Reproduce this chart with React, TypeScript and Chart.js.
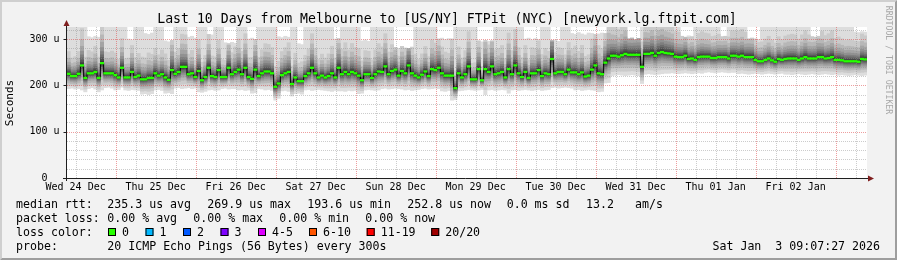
import React, { useEffect, useRef } from 'react';
import { Chart, registerables } from 'chart.js';

Chart.register(...registerables);

// ---------------- data (hourly steps, 10 days) ----------------
const FIRST_STEP_HOUR = 9.42; // hours after 00:00 Wed 24 Dec at the first step
const Y_MAX = 326;

const medianRtt: number[] = [
  225, 220, 220, 225, 243, 216, 226, 226, 229, 216,
  248, 226, 226, 226, 222, 217, 238, 217, 217, 229,
  218, 221, 213, 213, 216, 216, 226, 221, 224, 217,
  212, 233, 225, 229, 240, 240, 224, 226, 218, 231,
  211, 218, 238, 220, 218, 233, 218, 218, 238, 224,
  229, 234, 224, 238, 218, 214, 234, 220, 226,
  230, 230, 226, 197, 204, 222, 226, 229, 203, 217,
  209, 209, 220, 226, 238, 226, 217, 221, 217, 220,
  226, 217, 238, 224, 229, 224, 229, 226, 221, 211,
  224, 224, 216, 224, 230, 229, 241, 224, 231, 234,
  221, 231, 226, 243, 226, 221, 217, 223, 230, 220,
  235, 233, 238, 226, 221, 221, 221, 194, 226, 217,
  224, 241, 213, 213, 235, 211, 235, 229, 241, 224,
  226, 229, 217, 235, 224, 243, 226, 218, 229, 216,
  226, 226, 233, 220, 226, 224, 257, 226, 229, 229,
  224, 234, 228, 228, 224, 228, 219, 221, 234, 243,
  226, 224, 249, 258, 264, 264, 262, 265, 268, 266,
  266, 266, 266, 240, 268, 268, 270, 264, 270, 272,
  270, 269, 268, 262, 261, 261, 264, 257, 258, 255,
  261, 262, 262, 262, 259, 259, 261, 261, 261, 258,
  264, 264, 262, 264, 261, 261, 261, 255, 252, 252,
  255, 258, 254, 251, 257, 255, 257, 258, 258, 258,
  255, 258, 261, 258, 258, 258, 261, 261, 258, 259,
  261, 255, 255, 254, 252, 252, 252, 252, 251, 257,
  256,
];

const minRtt: number[] = [
  193, 194, 192, 193, 190, 186, 193, 195, 192, 186,
  190, 195, 196, 194, 190, 191, 196, 190, 189, 191,
  190, 189, 181, 182, 180, 182, 190, 191, 189, 183,
  184, 182, 194, 195, 193, 194, 195, 193, 194, 186,
  185, 187, 190, 191, 189, 190, 193, 194, 192, 193,
  193, 190, 191, 189, 190, 183, 184, 193, 192, 190,
  191, 189, 168, 172, 188, 189, 187, 177, 182, 183,
  181, 190, 191, 189, 190, 191, 190, 189, 188, 187,
  189, 188, 188, 187, 189, 188, 189, 182, 183, 190,
  191, 190, 189, 190, 193, 194, 192, 193, 194, 193,
  192, 190, 191, 189, 190, 191, 193, 194, 192, 193,
  194, 193, 188, 187, 189, 168, 169, 188, 189, 190,
  191, 190, 189, 190, 191, 180, 190, 191, 189, 190,
  191, 190, 183, 190, 191, 189, 190, 191, 190, 189,
  190, 191, 189, 190, 191, 195, 196, 194, 195, 196,
  195, 194, 190, 191, 189, 190, 191, 190, 189, 186,
  187, 205, 206, 221, 222, 223, 222, 221, 222, 223,
  222, 221, 204, 224, 225, 224, 223, 224, 225, 226,
  226, 227, 226, 225, 226, 227, 226, 225, 226, 227,
  226, 228, 229, 228, 227, 228, 229, 228, 227, 228,
  228, 225, 226, 225, 224, 225, 226, 225, 224, 225,
  226, 225, 224, 225, 226, 224, 224, 223, 224, 225,
  224, 223, 224, 225, 224, 223, 224, 225, 224, 223,
  224, 222, 223, 222, 221, 222, 223, 222, 221, 222,
];

const maxRtt: number[] = [
  326, 326, 326, 326, 326, 326, 305, 303, 306, 304,
  326, 326, 326, 326, 326, 326, 326, 326, 300, 298,
  326, 326, 326, 312, 310, 313, 326, 326, 326, 296,
  294, 297, 326, 326, 326, 326, 304, 306, 302, 326,
  326, 326, 310, 309, 326, 326, 326, 292, 290, 293,
  291, 326, 326, 326, 300, 302, 299, 326, 326, 326,
  326, 326, 326, 305, 303, 306, 304, 326, 326, 290,
  288, 326, 326, 326, 326, 326, 326, 326, 326, 326,
  300, 301, 326, 326, 326, 326, 326, 326, 296, 298,
  295, 326, 326, 326, 326, 326, 326, 326, 282, 280,
  284, 281, 279, 283, 326, 326, 326, 326, 326, 326,
  326, 300, 302, 299, 301, 300, 326, 326, 326, 326,
  326, 326, 326, 296, 294, 297, 295, 296, 326, 326,
  326, 326, 326, 326, 326, 326, 326, 300, 302, 298,
  301, 299, 326, 326, 326, 296, 298, 295, 326, 326,
  326, 312, 310, 314, 311, 309, 313, 312, 310, 311,
  313, 312, 326, 326, 326, 326, 326, 326, 300, 302,
  298, 301, 326, 326, 326, 326, 326, 326, 326, 326,
  326, 326, 326, 326, 306, 304, 307, 305, 326, 326,
  326, 326, 326, 326, 326, 326, 305, 306, 326, 326,
  326, 326, 326, 326, 300, 302, 301, 299, 326, 326,
  326, 326, 326, 326, 326, 326, 326, 326, 326, 326,
  326, 326, 326, 305, 304, 306, 326, 326, 326, 326,
  326, 326, 326, 326, 326, 326, 315, 314, 316, 315,
];

const yMajorTicks = [0, 100, 200, 300];
const yTickLabels = ['0', '100 u', '200 u', '300 u'];
const dayLabels = [
  'Wed 24 Dec', 'Thu 25 Dec', 'Fri 26 Dec', 'Sat 27 Dec', 'Sun 28 Dec',
  'Mon 29 Dec', 'Tue 30 Dec', 'Wed 31 Dec', 'Thu 01 Jan', 'Fri 02 Jan',
];

const TITLE = 'Last 10 Days from Melbourne to [US/NY] FTPit (NYC) [newyork.lg.ftpit.com]';
const medianRow = ['median rtt:', '235.3 us avg', '269.9 us max', '193.6 us min', '252.8 us now', '0.0 ms sd', '13.2', 'am/s'];
const lossRow = ['packet loss:', '0.00 % avg', '0.00 % max', '0.00 % min', '0.00 % now'];
const lossLabels = ['0', '1', '2', '3', '4-5', '6-10', '11-19', '20/20'];
const lossColors = ['#26ff00', '#00b8ff', '#0059ff', '#7e00ff', '#dd00ff', '#ff5500', '#ff0000', '#a10000'];
const probeText = '20 ICMP Echo Pings (56 Bytes) every 300s';
const dateText = 'Sat Jan  3 09:07:27 2026';

// ---------------- style ----------------
const MONO = '"DejaVu Sans Mono", monospace';
const SMOKE_GREYS = [221, 202, 183, 164, 145, 126, 107, 88, 69, 50];
const SMOKE_DOWN = [1, 0.8, 0.62, 0.48, 0.37, 0.28, 0.2, 0.13, 0.08, 0.04];
const SMOKE_UP = [0, 1.5, 1.05, 0.78, 0.58, 0.43, 0.31, 0.21, 0.13, 0.06];
const GREEN_HALF = 1.8;
const medianRowX = [16, 107.3, 207.3, 307.3, 407.3, 506.7, 586, 635];
const lossRowX = [16, 107.3, 193.3, 279.3, 365.3];
const lossBoxX = [108, 145.5, 183, 220.5, 258, 309, 366.7, 431.2];

const N = Math.min(medianRtt.length, minRtt.length, maxRtt.length);
const xs = Array.from({ length: N }, (_, i) => i + 0.5);

function drawGrid(chart: any) {
  const { ctx, chartArea, scales } = chart;
  const { left, right, top, bottom } = chartArea;
  const xS = scales.x, yS = scales.y;
  ctx.save();
  ctx.lineWidth = 1;
  ctx.setLineDash([1, 1]);
  for (let v = 20; v <= Y_MAX; v += 20) {
    const py = Math.round(yS.getPixelForValue(v)) + 0.5;
    ctx.strokeStyle = v % 100 === 0 ? 'rgba(222,79,79,0.55)' : 'rgba(143,143,143,0.45)';
    ctx.beginPath();
    ctx.moveTo(left, py);
    ctx.lineTo(right, py);
    ctx.stroke();
  }
  const firstH = Math.ceil(FIRST_STEP_HOUR / 6) * 6;
  for (let h = firstH; h < FIRST_STEP_HOUR + N; h += 6) {
    const px = Math.round(xS.getPixelForValue(h - FIRST_STEP_HOUR)) + 0.5;
    ctx.strokeStyle = h % 24 === 0 ? 'rgba(222,79,79,0.55)' : 'rgba(143,143,143,0.45)';
    ctx.beginPath();
    ctx.moveTo(px, top);
    ctx.lineTo(px, bottom);
    ctx.stroke();
  }
  ctx.restore();
}

function txt(ctx: CanvasRenderingContext2D, s: string, x: number, y: number, size: number, align: CanvasTextAlign = 'left', color = '#000') {
  ctx.font = `${size}px ${MONO}`;
  ctx.textAlign = align;
  ctx.textBaseline = 'middle';
  ctx.fillStyle = color;
  ctx.fillText(s, x, y);
}

const smokePlugin = {
  id: 'smokeping',
  beforeDraw(chart: any) {
    const { ctx, width, height, chartArea } = chart;
    ctx.save();
    ctx.fillStyle = '#f2f2f2';
    ctx.fillRect(0, 0, width, height);
    ctx.fillStyle = '#cfcfcf';
    ctx.beginPath();
    ctx.moveTo(0, height); ctx.lineTo(2, height - 2); ctx.lineTo(2, 2);
    ctx.lineTo(width - 2, 2); ctx.lineTo(width, 0); ctx.lineTo(0, 0);
    ctx.closePath(); ctx.fill();
    ctx.fillStyle = '#9e9e9e';
    ctx.beginPath();
    ctx.moveTo(2, height - 2); ctx.lineTo(width - 2, height - 2); ctx.lineTo(width - 2, 2);
    ctx.lineTo(width, 0); ctx.lineTo(width, height); ctx.lineTo(0, height);
    ctx.closePath(); ctx.fill();
    ctx.fillStyle = '#ffffff';
    ctx.fillRect(chartArea.left, chartArea.top, chartArea.right - chartArea.left, chartArea.bottom - chartArea.top);
    ctx.restore();
  },
  beforeDatasetDraw(chart: any, args: any) {
    if (args.index === SMOKE_GREYS.length) drawGrid(chart);
  },
  afterDraw(chart: any) {
    const { ctx, chartArea, scales } = chart;
    const { left, right, top, bottom } = chartArea;
    const xS = scales.x, yS = scales.y;
    ctx.save();
    ctx.setLineDash([]);
    ctx.lineWidth = 1;
    ctx.strokeStyle = '#1f1f1f';
    ctx.beginPath();
    ctx.moveTo(63, bottom + 0.5); ctx.lineTo(right + 1, bottom + 0.5);
    ctx.moveTo(left - 0.5, bottom + 3); ctx.lineTo(left - 0.5, top - 3);
    ctx.stroke();
    ctx.beginPath();
    yMajorTicks.forEach((v) => {
      const py = Math.round(yS.getPixelForValue(v)) + 0.5;
      ctx.moveTo(left - 3.5, py); ctx.lineTo(left - 0.5, py);
    });
    ctx.stroke();
    ctx.fillStyle = '#801f1f';
    ctx.beginPath();
    ctx.moveTo(left - 0.5, top - 7); ctx.lineTo(left - 3.5, top - 1); ctx.lineTo(left + 2.5, top - 1);
    ctx.closePath(); ctx.fill();
    ctx.beginPath();
    ctx.moveTo(right + 7, bottom + 0.5); ctx.lineTo(right + 1, bottom - 2.5); ctx.lineTo(right + 1, bottom + 3.5);
    ctx.closePath(); ctx.fill();
    yMajorTicks.forEach((v, i) => {
      const py = yS.getPixelForValue(v);
      const rightEdge = v === 0 ? 47.5 : 59.5;
      txt(ctx, yTickLabels[i], rightEdge, py, 10, 'right');
    });
    dayLabels.forEach((lab, i) => {
      const h = 12 + 24 * i;
      const px = xS.getPixelForValue(h - FIRST_STEP_HOUR);
      txt(ctx, lab, px, 187, 10, 'center');
    });
    txt(ctx, TITLE, 447, 19.5, 13.2, 'center');
    ctx.save();
    ctx.translate(10.5, 103);
    ctx.rotate(-Math.PI / 2);
    txt(ctx, 'Seconds', 0, 0, 11, 'center');
    ctx.restore();
    ctx.save();
    ctx.translate(888, 60);
    ctx.rotate(Math.PI / 2);
    txt(ctx, 'RRDTOOL / TOBI OETIKER', 0, 0, 8.2, 'center', '#a8a8a8');
    ctx.restore();
    const LS = 11.6;
    medianRow.forEach((s, i) => txt(ctx, s, medianRowX[i], 204.5, LS));
    lossRow.forEach((s, i) => txt(ctx, s, lossRowX[i], 218.5, LS));
    txt(ctx, 'loss color:', 16, 232.5, LS);
    lossLabels.forEach((s, i) => {
      const bx = lossBoxX[i];
      ctx.fillStyle = lossColors[i];
      ctx.fillRect(bx, 228, 8, 8);
      ctx.strokeStyle = '#000';
      ctx.lineWidth = 1;
      ctx.strokeRect(bx + 0.5, 228.5, 7, 7);
      txt(ctx, s, bx + 14, 232.5, LS);
    });
    txt(ctx, 'probe:', 16, 246.5, LS);
    txt(ctx, probeText, 107.3, 246.5, LS);
    txt(ctx, dateText, 880, 246.5, LS, 'right');
    ctx.restore();
  },
};

export default function App() {
  const ref = useRef<HTMLCanvasElement | null>(null);
  useEffect(() => {
    document.body.style.margin = '0';
    const canvas = ref.current;
    if (!canvas) return;
    const datasets: any[] = [];
    SMOKE_GREYS.forEach((g, k) => {
      const data = xs.map((x, i) => {
        const med = medianRtt[i];
        const d = med - minRtt[i];
        const lo = k === 0 ? minRtt[i] : med - d * SMOKE_DOWN[k];
        const hi = k === 0 ? maxRtt[i] : Math.min(maxRtt[i], med + d * SMOKE_UP[k]);
        return { x, y: [lo, hi] };
      });
      datasets.push({
        type: 'bar', data, backgroundColor: `rgb(${g},${g},${g})`, borderWidth: 0,
        grouped: false, barPercentage: 1, categoryPercentage: 1, order: 100 - k,
      });
    });
    datasets.push({
      type: 'line', data: xs.map((x, i) => ({ x, y: medianRtt[i] })),
      borderColor: '#000000', borderWidth: 1, stepped: 'middle', pointRadius: 0, fill: false, order: 2,
    });
    datasets.push({
      type: 'bar', data: xs.map((x, i) => ({ x, y: [medianRtt[i] - GREEN_HALF, medianRtt[i] + GREEN_HALF] })),
      backgroundColor: lossColors[0], borderWidth: 0, grouped: false, barPercentage: 1, categoryPercentage: 1, order: 1,
    });
    const chart = new Chart(canvas, {
      type: 'bar',
      data: { datasets },
      options: {
        animation: false,
        responsive: false,
        maintainAspectRatio: false,
        events: [],
        layout: { padding: { left: 67, right: 30, top: 27, bottom: 82 } },
        plugins: { legend: { display: false }, tooltip: { enabled: false } },
        scales: {
          x: { type: 'linear', min: 0, max: N, offset: false, display: false },
          y: { type: 'linear', min: 0, max: Y_MAX, display: false },
        },
      } as any,
      plugins: [smokePlugin],
    } as any);
    return () => chart.destroy();
  }, []);
  return (
    <div style={{ width: 897, height: 260 }}>
      <canvas ref={ref} width={897} height={260} style={{ display: 'block', width: 897, height: 260 }} />
    </div>
  );
}
